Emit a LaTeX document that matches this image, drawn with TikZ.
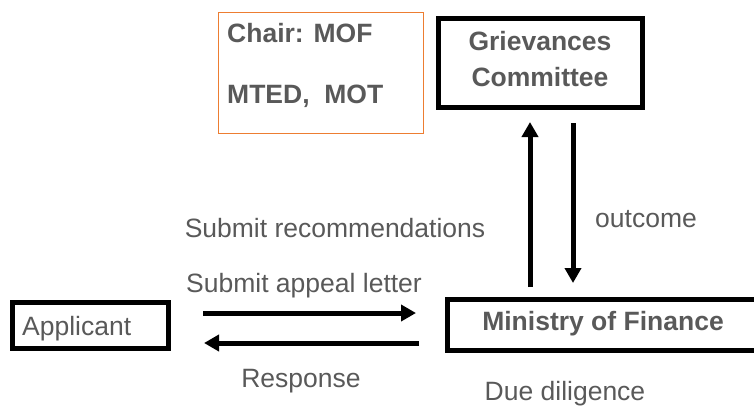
\documentclass[tikz,border=0pt]{standalone}
\usepackage{fontspec}
\setmainfont{Liberation Sans}
\usetikzlibrary{arrows.meta}
\definecolor{txtgray}{RGB}{89,89,89}
\definecolor{boxorange}{RGB}{237,125,49}
\tikzset{
    blackbox/.style={draw=black, line width=5pt, outer sep=0pt, inner sep=0pt},
    lbl/.style={text=txtgray, inner sep=0pt, anchor=base, font=\fontsize{26.5}{31}\selectfont},
    boldlbl/.style={lbl, font=\fontsize{26.5}{31}\selectfont\bfseries},
    flow/.style={line width=5pt, -{Triangle[length=15pt,width=16pt]}}
}
\begin{document}
\begin{tikzpicture}[x=1pt,y=-1pt]
            \useasboundingbox (0,0) rectangle (754,408);
            \clip (0,0) rectangle (754,408);

            % boxes
            \node[draw=boxorange, line width=1pt, outer sep=0pt, minimum width=205pt, minimum height=121pt] (members) at (320.5,72.5) {};
            \node[blackbox, minimum width=204pt, minimum height=89pt] (gc) at (540.5,63) {};
            \node[blackbox, minimum width=311pt, minimum height=51pt] (mof) at (603,324.5) {};
            \node[blackbox, minimum width=156pt, minimum height=46pt] (app) at (90.5,325.5) {};

            % texts in boxes
            \node[boldlbl, anchor=base west] (chair) at (227,42) {Chair: MOF};
            \node[boldlbl, anchor=base west] (others) at (227,103) {MTED,\ \ MOT};
            \node[boldlbl] (gctop) at (540,50) {Grievances};
            \node[boldlbl] (gcbot) at (540,86) {Committee};
            \node[boldlbl] (moftxt) at (603,330) {Ministry of Finance};
            \node[lbl, anchor=base west] (apptxt) at (22,335) {Applicant};

            % arrows
            \draw[flow, shorten <=34.5pt, shorten >=31.5pt] ([yshift=12.5pt]app.east) -- ([yshift=11.5pt]mof.west);
            \draw[flow, shorten <=28.5pt, shorten >=35.5pt] ([yshift=-18.5pt]mof.west) -- ([yshift=-17.5pt]app.east);
            \draw[flow, shorten <=12pt, shorten >=14.5pt] ([xshift=-73pt]mof.north) -- ([xshift=-10.5pt]gc.south);
            \draw[flow, shorten <=15.5pt, shorten >=16pt] ([xshift=32.5pt]gc.south) -- ([xshift=-30pt]mof.north);

            % arrow labels
            \node[lbl] (recom) at (335,237) {Submit recommendations};
            \node[lbl] (outc) at (646,227) {outcome};
            \node[lbl] (appeal) at (304,292) {Submit appeal letter};
            \node[lbl] (resp) at (301,387) {Response};
            \node[lbl] (dued) at (565,400) {Due diligence};
\end{tikzpicture}
\end{document}
